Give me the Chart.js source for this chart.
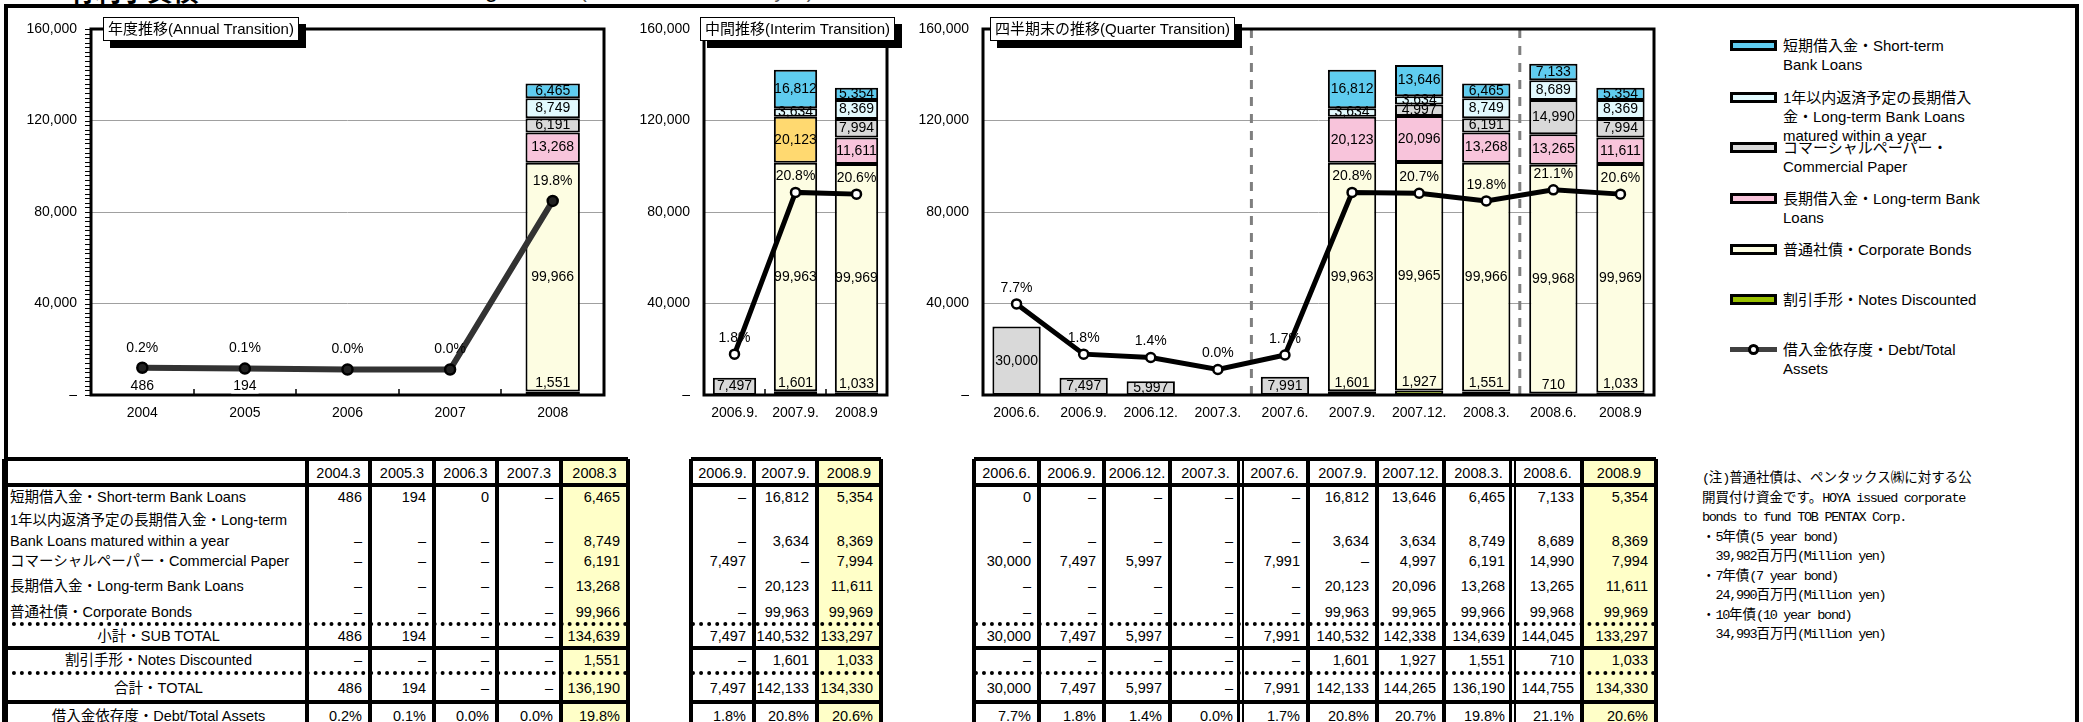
<!DOCTYPE html>
<html lang="ja">
<head>
<meta charset="utf-8">
<title>有利子負債の推移</title>
<script src="https://cdn.jsdelivr.net/npm/chart.js@4.4.1/dist/chart.umd.min.js"></script>
<style>
  html, body { margin: 0; padding: 0; }
  body { width: 2083px; height: 722px; position: relative; overflow: hidden; background: #fff;
         font-family: "Liberation Sans", "Noto Sans CJK JP", sans-serif; color: #000; }
  canvas { position: absolute; top: 0; }
  .abs { position: absolute; white-space: nowrap; }
  .ttl { position: absolute; background: #fff; border: 1px solid #000; box-shadow: 7px 7px 0 #000;
         font-size: 15px; line-height: 22px; padding: 0 4px; white-space: nowrap; }
  .frame { position: absolute; left: 4px; top: 4px; width: 2067px; height: 800px;
           border: 4px solid #000; border-bottom: none; }
  .cell { position: absolute; height: 20px; line-height: 20px; font-size: 14.5px; white-space: nowrap;
          box-sizing: border-box; }
  .leg { position: absolute; left: 1783px; font-size: 15px; line-height: 19px; white-space: nowrap; }
  .sym { position: absolute; left: 1730px; width: 47px; height: 11px; box-sizing: border-box; border: 3px solid #000; }
  .note { position: absolute; left: 1702px; top: 469px; font-family: "Liberation Mono", "Noto Sans CJK JP", monospace;
          font-size: 13.5px; line-height: 19.5px; white-space: pre; }
  .lat { letter-spacing: -1.3px; }
</style>
</head>
<body>
<div class="abs" style="left:69px;top:-29px;font-size:26px;font-weight:bold;">有利子負債</div>
<div class="abs" style="left:330px;top:-25px;font-size:24px;">Interest-bearing Debt</div>
<div class="abs" style="left:580px;top:-25px;font-size:20px;color:#555;">(単位：百万円/Million yen)</div>
<script>
// ---- data ----
const annualLabels = ['2004', '2005', '2006', '2007', '2008'];
const annualHeads = ['2004.3', '2005.3', '2006.3', '2007.3', '2008.3'];
const annualShort = [486, 194, 0, null, 6465];
const annualWithin = [null, null, null, null, 8749];
const annualCP = [null, null, null, null, 6191];
const annualLong = [null, null, null, null, 13268];
const annualBonds = [null, null, null, null, 99966];
const annualSub = [486, 194, null, null, 134639];
const annualNotes = [null, null, null, null, 1551];
const annualTotal = [486, 194, null, null, 136190];
const annualRatio = [0.2, 0.1, 0.0, 0.0, 19.8];

const interimLabels = ['2006.9.', '2007.9.', '2008.9'];
const interimShort = [null, 16812, 5354];
const interimWithin = [null, 3634, 8369];
const interimCP = [7497, null, 7994];
const interimLong = [null, 20123, 11611];
const interimBonds = [null, 99963, 99969];
const interimSub = [7497, 140532, 133297];
const interimNotes = [null, 1601, 1033];
const interimTotal = [7497, 142133, 134330];
const interimRatio = [1.8, 20.8, 20.6];

const quarterLabels = ['2006.6.', '2006.9.', '2006.12.', '2007.3.', '2007.6.', '2007.9.', '2007.12.', '2008.3.', '2008.6.', '2008.9'];
const quarterShort = [0, null, null, null, null, 16812, 13646, 6465, 7133, 5354];
const quarterWithin = [null, null, null, null, null, 3634, 3634, 8749, 8689, 8369];
const quarterCP = [30000, 7497, 5997, null, 7991, null, 4997, 6191, 14990, 7994];
const quarterLong = [null, null, null, null, null, 20123, 20096, 13268, 13265, 11611];
const quarterBonds = [null, null, null, null, null, 99963, 99965, 99966, 99968, 99969];
const quarterSub = [30000, 7497, 5997, null, 7991, 140532, 142338, 134639, 144045, 133297];
const quarterNotes = [null, null, null, null, null, 1601, 1927, 1551, 710, 1033];
const quarterTotal = [30000, 7497, 5997, null, 7991, 142133, 144265, 136190, 144755, 134330];
const quarterRatio = [7.7, 1.8, 1.4, 0.0, 1.7, 20.8, 20.7, 19.8, 21.1, 20.6];

const seriesNames = ['短期借入金・Short-term Bank Loans', '1年以内返済予定の長期借入金・Long-term Bank Loans matured within a year',
  'コマーシャルペーパー・Commercial Paper', '長期借入金・Long-term Bank Loans', '普通社債・Corporate Bonds',
  '割引手形・Notes Discounted', '借入金依存度・Debt/Total Assets'];

const COLORS = { short: '#5FCCEF', within: '#E2FAFE', cp: '#D9D9D9', long: '#F8C4DB', bonds: '#FDFDE2', notes: '#99C000', gold: '#FFD970' };
const FONT = '"Liberation Sans", "Noto Sans CJK JP", sans-serif';

Chart.defaults.font.family = FONT;
Chart.defaults.font.size = 14;
Chart.defaults.color = '#000';

// borders, minor ticks, separators and the value labels
const decoPlugin = {
  id: 'deco',
  beforeDatasetsDraw(chart, args, o) {
    const { ctx, chartArea: a, scales } = chart;
    ctx.save();
    if (o.seps) {
      ctx.strokeStyle = '#7f7f7f';
      ctx.lineWidth = 3;
      ctx.setLineDash([9, 8]);
      o.seps.forEach(i => {
        const x = (scales.x.getPixelForValue(i - 1) + scales.x.getPixelForValue(i)) / 2;
        ctx.beginPath(); ctx.moveTo(x, a.top); ctx.lineTo(x, a.bottom); ctx.stroke();
      });
      ctx.setLineDash([]);
    }
    ctx.restore();
  },
  afterDatasetsDraw(chart, args, o) {
    const { ctx, chartArea: a, scales } = chart;
    ctx.save();
    ctx.strokeStyle = '#000';
    ctx.lineWidth = 3;
    ctx.strokeRect(a.left, a.top, a.right - a.left, a.bottom - a.top);
    ctx.lineWidth = 1;
    if (o.minor) {
      for (let v = 0; v <= 160000; v += 2000) {
        const y = Math.round(scales.y.getPixelForValue(v)) + 0.5;
        ctx.beginPath(); ctx.moveTo(a.left - 6, y); ctx.lineTo(a.left, y); ctx.stroke();
      }
    }
    if (o.xticks) {
      ctx.lineWidth = 1.5;
      const n = chart.data.labels.length;
      for (let i = 1; i < n; i++) {
        const x = Math.round((scales.x.getPixelForValue(i - 1) + scales.x.getPixelForValue(i)) / 2);
        ctx.beginPath(); ctx.moveTo(x, a.bottom); ctx.lineTo(x, a.bottom - 6); ctx.stroke();
      }
    }
    ctx.font = '14px ' + FONT;
    ctx.textAlign = 'center';
    ctx.textBaseline = 'middle';
    chart.data.datasets.forEach((ds, i) => {
      const meta = chart.getDatasetMeta(i);
      meta.data.forEach((el, j) => {
        const v = ds.data[j];
        if (v === null || v === undefined) return;
        if (ds.type === 'line') {
          ctx.fillStyle = '#000';
          ctx.fillText(v.toFixed(1) + '%', el.x, el.y - o.pct);
          return;
        }
        const txt = v.toLocaleString('en-US');
        const h = el.base - el.y;
        let y = (el.y + el.base) / 2;
        if (ds.lowLabel) {
          y = el.y - 8;
        } else if (h < 10 && el.base >= a.bottom - 1) {
          y = el.y - 8;
          const w = ctx.measureText(txt).width;
          ctx.fillStyle = '#fff';
          ctx.fillRect(el.x - w / 2 - 2, y - 8, w + 4, 15);
        }
        ctx.fillStyle = '#000';
        ctx.fillText(txt, el.x, y);
      });
    });
    ctx.restore();
  }
};

function makeChart(c) {
  const cv = document.createElement('canvas');
  cv.width = c.w; cv.height = 430;
  cv.style.left = c.x + 'px';
  document.body.appendChild(cv);
  const bar = (label, data, color, extra) => Object.assign({
    type: 'bar', label: label, data: data.map(v => v || null),
    backgroundColor: color, borderColor: '#000', borderWidth: 2, borderSkipped: false,
    categoryPercentage: c.cat, barPercentage: 1, stack: 's', yAxisID: 'y', order: 2
  }, extra || {});
  const datasets = [
    bar(seriesNames[5], c.notes, COLORS.notes, { lowLabel: true }),
    bar(seriesNames[4], c.bonds, COLORS.bonds),
    bar(seriesNames[3], c.long, c.longColor || COLORS.long),
    bar(seriesNames[2], c.cp, COLORS.cp),
    bar(seriesNames[1], c.within, COLORS.within),
    bar(seriesNames[0], c.short, COLORS.short),
    {
      type: 'line', label: seriesNames[6], data: c.ratio, yAxisID: 'y1', order: 0,
      borderColor: c.lineColor, borderWidth: c.lineWidth, tension: 0,
      pointRadius: c.pointRadius, pointBackgroundColor: c.pointFill,
      pointBorderColor: '#000', pointBorderWidth: 2.5
    }
  ];
  return new Chart(cv, {
    data: { labels: c.labels, datasets: datasets },
    options: {
      responsive: false, animation: false, devicePixelRatio: 1,
      layout: { padding: { top: 29, right: c.padRight, left: 0, bottom: 0 } },
      plugins: { legend: { display: false }, tooltip: { enabled: false },
        deco: { minor: c.minor, xticks: c.xticks, seps: c.seps, pct: c.pct } },
      scales: {
        x: { stacked: true, offset: true,
          grid: { display: false, drawTicks: false }, border: { display: false },
          ticks: { padding: 10, maxRotation: 0, autoSkip: false, font: { size: 14 } },
          afterFit: s => { s.height = 35; } },
        y: { stacked: true, min: 0, max: 160000,
          ticks: { stepSize: 40000, padding: 14, font: { size: 14 },
            callback: v => v === 0 ? '–' : v.toLocaleString('en-US') },
          grid: { color: '#a0a0a0', drawTicks: false,
            lineWidth: ctx => (ctx.tick && (ctx.tick.value === 0 || ctx.tick.value === 160000)) ? 0 : 1 },
          border: { display: false },
          afterFit: s => { s.width = c.yw; } },
        y1: { display: false, min: -3, max: 40 }
      }
    },
    plugins: [decoPlugin]
  });
}

makeChart({ x: 0, w: 620, yw: 91, padRight: 16, cat: 0.53, labels: annualLabels,
  short: annualShort, within: annualWithin, cp: annualCP, long: annualLong, bonds: annualBonds, notes: annualNotes,
  ratio: annualRatio, lineColor: '#333', lineWidth: 6, pointRadius: 5, pointFill: '#222',
  minor: true, xticks: true, pct: 20 });

makeChart({ x: 620, w: 281, yw: 84, padRight: 14, cat: 0.71, labels: interimLabels,
  short: interimShort, within: interimWithin, cp: interimCP, long: interimLong, bonds: interimBonds, notes: interimNotes,
  longColor: [COLORS.long, COLORS.gold, COLORS.long],
  ratio: interimRatio, lineColor: '#000', lineWidth: 5, pointRadius: 4.5, pointFill: '#fff',
  minor: false, xticks: true, pct: 16 });

makeChart({ x: 900, w: 780, yw: 83, padRight: 26, cat: 0.72, labels: quarterLabels,
  short: quarterShort, within: quarterWithin, cp: quarterCP, long: quarterLong, bonds: quarterBonds, notes: quarterNotes,
  ratio: quarterRatio, lineColor: '#000', lineWidth: 5, pointRadius: 4.5, pointFill: '#fff',
  minor: false, xticks: false, seps: [4, 8], pct: 16 });

// ---- helpers for html parts ----
function addDiv(cls, css, html) {
  const d = document.createElement('div');
  d.className = cls;
  Object.assign(d.style, css);
  if (html !== undefined) d.innerHTML = html;
  document.body.appendChild(d);
  return d;
}

// titles
addDiv('ttl', { left: '103px', top: '17px' }, '年度推移(Annual Transition)');
addDiv('ttl', { left: '700px', top: '17px' }, '中間推移(Interim Transition)');
addDiv('ttl', { left: '990px', top: '17px' }, '四半期末の推移(Quarter Transition)');

// legend
const legendRows = [
  { key: 'short', y: 45, lines: ['短期借入金・Short-term', 'Bank Loans'] },
  { key: 'within', y: 97, lines: ['1年以内返済予定の長期借入', '金・Long-term Bank Loans', 'matured within a year'] },
  { key: 'cp', y: 147, lines: ['コマーシャルペーパー・', 'Commercial Paper'] },
  { key: 'long', y: 198, lines: ['長期借入金・Long-term Bank', 'Loans'] },
  { key: 'bonds', y: 249, lines: ['普通社債・Corporate Bonds'] },
  { key: 'notes', y: 299, lines: ['割引手形・Notes Discounted'] },
  { key: 'ratio', y: 349, lines: ['借入金依存度・Debt/Total', 'Assets'] }
];
legendRows.forEach(r => {
  if (r.key === 'ratio') {
    addDiv('abs', { left: '1730px', top: (r.y - 2.5) + 'px', width: '47px', height: '5px', background: '#404040' });
    addDiv('abs', { left: '1748px', top: (r.y - 5.5) + 'px', width: '11px', height: '11px', boxSizing: 'border-box',
      border: '3px solid #000', borderRadius: '50%', background: '#fff' });
  } else {
    addDiv('sym', { top: (r.y - 5.5) + 'px', background: COLORS[r.key] });
  }
  addDiv('leg', { top: (r.y - 9.5) + 'px' }, r.lines.join('<br>'));
});

// tables
const ROW_EDGES = [459, 485, 509, 551, 572, 600, 624, 648, 673, 702, 740];
const ROW_Y = [497, 541, 561, 586, 612, 636, 660, 688, 716];
const HEAD_Y = 473;
const fmt = v => v === null ? '–' : v.toLocaleString('en-US');
const pct = v => v.toFixed(1) + '%';

function buildTable(cols, heads, rows, labels, doubles) {
  const x0 = cols[0], x1 = cols[cols.length - 1];
  const first = labels ? 1 : 0;
  // yellow last column
  addDiv('abs', { left: cols[cols.length - 2] + 'px', top: ROW_EDGES[0] + 'px',
    width: (x1 - cols[cols.length - 2]) + 'px', height: '300px', background: '#FFFFC8' });
  heads.forEach((h, i) => {
    const c = first + i;
    addDiv('cell', { left: cols[c] + 'px', width: (cols[c + 1] - cols[c]) + 'px', top: (HEAD_Y - 10) + 'px',
      textAlign: 'center' }, h);
  });
  rows.forEach((r, ri) => {
    r.forEach((v, i) => {
      const c = first + i;
      addDiv('cell', { left: cols[c] + 'px', width: (cols[c + 1] - cols[c]) + 'px', top: (ROW_Y[ri] - 10) + 'px',
        textAlign: 'right', paddingRight: '8px' }, ri === 8 ? pct(v) : fmt(v));
    });
  });
  if (labels) {
    labels.forEach((l, ri) => {
      const centered = ri >= 5;
      if (Array.isArray(l)) {
        addDiv('cell', { left: cols[0] + 'px', width: (cols[1] - cols[0]) + 'px', top: '510px', paddingLeft: '6px' }, l[0]);
        addDiv('cell', { left: cols[0] + 'px', width: (cols[1] - cols[0]) + 'px', top: '531px', paddingLeft: '6px' }, l[1]);
      } else {
        addDiv('cell', { left: cols[0] + 'px', width: (cols[1] - cols[0]) + 'px', top: (ROW_Y[ri] - 10) + 'px',
          paddingLeft: '6px', textAlign: centered ? 'center' : 'left' }, l);
      }
    });
  }
  // horizontal lines
  [[0, 'solid'], [1, 'solid'], [6, 'dotted'], [7, 'solid'], [8, 'dotted'], [9, 'solid']].forEach(([e, st]) => {
    addDiv('abs', { left: x0 + 'px', top: (ROW_EDGES[e] - 2) + 'px', width: (x1 - x0) + 'px', height: '0px',
      borderTop: '4px ' + st + ' #000' });
  });
  // vertical lines
  cols.forEach((x, i) => {
    if (doubles && doubles.includes(i)) {
      addDiv('abs', { left: (x - 4) + 'px', top: ROW_EDGES[0] + 'px', width: '3px', height: '300px', background: '#000' });
      addDiv('abs', { left: (x + 1) + 'px', top: ROW_EDGES[0] + 'px', width: '2px', height: '300px', background: '#000' });
    } else {
      addDiv('abs', { left: (x - 2) + 'px', top: ROW_EDGES[0] + 'px', width: '4px', height: '300px', background: '#000' });
    }
  });
}

buildTable([4, 307, 370, 434, 497, 561, 628], annualHeads,
  [annualShort, annualWithin, annualCP, annualLong, annualBonds, annualSub, annualNotes, annualTotal, annualRatio],
  ['短期借入金・Short-term Bank Loans', ['1年以内返済予定の長期借入金・Long-term', 'Bank Loans matured within a year'],
   'コマーシャルペーパー・Commercial Paper', '長期借入金・Long-term Bank Loans', '普通社債・Corporate Bonds',
   '小計・SUB TOTAL', '割引手形・Notes Discounted', '合計・TOTAL', '借入金依存度・Debt/Total Assets']);

buildTable([691, 754, 817, 881], interimLabels,
  [interimShort, interimWithin, interimCP, interimLong, interimBonds, interimSub, interimNotes, interimTotal, interimRatio]);

buildTable([974, 1039, 1104, 1170, 1241, 1308, 1377, 1444, 1513, 1582, 1656], quarterLabels,
  [quarterShort, quarterWithin, quarterCP, quarterLong, quarterBonds, quarterSub, quarterNotes, quarterTotal, quarterRatio],
  null, [4, 8]);

// note
const noteText = '(注)普通社債は、ペンタックス㈱に対する公\n開買付け資金です。HOYA issued corporate\nbonds to fund TOB PENTAX Corp.\n・5年債(5 year bond)\n  39,982百万円(Million yen)\n・7年債(7 year bond)\n  24,990百万円(Million yen)\n・10年債(10 year bond)\n  34,993百万円(Million yen)';
addDiv('note', {}, noteText.replace(/[ -~]+/g, m => '<span class="lat">' + m + '</span>'));

addDiv('frame', {});
</script>
</body>
</html>
